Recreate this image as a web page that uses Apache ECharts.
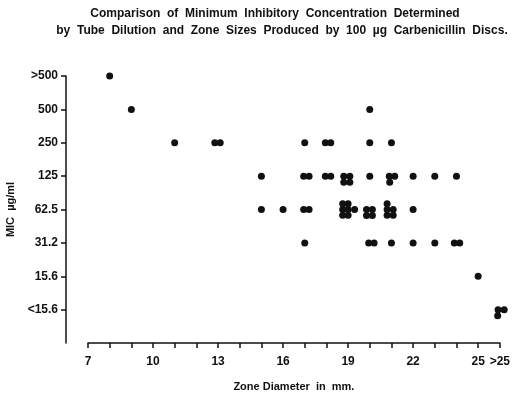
<!DOCTYPE html>
<html>
<head>
<meta charset="utf-8">
<script src="https://cdn.jsdelivr.net/npm/echarts@6/dist/echarts.min.js"></script>
<style>
  html, body { margin: 0; padding: 0; background: #fff; }
  #chart { width: 513px; height: 397px; }
</style>
</head>
<body>
<div id="chart"></div>
<script>
// MIC levels, bottom to top (index on the y axis)
const micLabels = ['<15.6', '15.6', '31.2', '62.5', '125', '250', '500', '>500'];
const zoneTicks = [7, 10, 13, 16, 19, 22, 25, 26];

// each dot: zone diameter (mm) and MIC level index; small offsets copy the
// way overlapping isolates are nudged apart in the original
const zoneDiameter = [
  8,
  9, 20,
  11, 12.85, 13.1, 17, 17.95, 18.2, 20, 21,
  15, 16.95, 17.2, 17.95, 18.2, 18.8, 19.08, 18.8, 19.08, 20, 20.9, 21.15, 20.92, 22, 23, 24,
  15, 16, 16.95, 17.2,
  18.75, 19.0, 18.75, 19.0, 19.3, 18.75, 19.0,
  19.85, 20.12, 19.85, 20.12,
  20.8, 20.8, 21.08, 20.8, 21.08,
  22,
  17, 19.95, 20.2, 21, 22, 23, 23.9, 24.15,
  25,
  25.92, 26.2, 25.9
];
const micLevel = [
  7,
  6, 6,
  5, 5, 5, 5, 5, 5, 5, 5,
  4, 4, 4, 4, 4, 4, 4, 3.82, 3.82, 4, 4, 4, 3.82, 4, 4, 4,
  3, 3, 3, 3,
  3.17, 3.17, 3.0, 3.0, 3.0, 2.83, 2.83,
  3.0, 3.0, 2.82, 2.82,
  3.17, 3.0, 3.0, 2.83, 2.83,
  3,
  2, 2, 2, 2, 2, 2, 2, 2,
  1,
  0, 0, -0.18
];

const points = zoneDiameter.map((x, i) => [x, micLevel[i]]);

const ink = '#111';
const font = '"Liberation Sans", Arial, sans-serif';
const titleStyle = { color: ink, fontFamily: font, fontWeight: 'bold', fontSize: 12 };

const chart = echarts.init(document.getElementById('chart'));
chart.setOption({
  animation: false,
  title: [
    {
      text: 'Comparison  of  Minimum  Inhibitory  Concentration  Determined',
      left: 275,
      top: 8,
      textAlign: 'center',
      padding: 0,
      textStyle: titleStyle
    },
    {
      text: 'by  Tube  Dilution  and  Zone  Sizes  Produced  by  100  µg  Carbenicillin  Discs.',
      left: 282,
      top: 25,
      textAlign: 'center',
      padding: 0,
      textStyle: titleStyle
    }
  ],
  grid: [
    { left: 66, width: 1, top: 76, bottom: 54 },
    { left: 88, right: 12, top: 76, bottom: 54 }
  ],
  xAxis: [
    { gridIndex: 0, type: 'value', show: false, min: 0, max: 1 },
    {
      gridIndex: 1,
      type: 'value',
      min: 7,
      max: 26,
      interval: 1,
      name: 'Zone Diameter  in  mm.',
      nameLocation: 'middle',
      nameGap: 38,
      nameTextStyle: { color: ink, fontFamily: font, fontWeight: 'bold', fontSize: 11 },
      axisLine: { onZero: false, lineStyle: { color: ink, width: 1.5 } },
      axisTick: { length: 5, lineStyle: { color: ink, width: 1.5 } },
      axisLabel: {
        customValues: zoneTicks,
        margin: 13,
        color: ink,
        fontFamily: font,
        fontWeight: 'bold',
        fontSize: 12,
        formatter: v => (v === 26 ? '>25' : String(v))
      },
      splitLine: { show: false }
    }
  ],
  yAxis: [
    {
      gridIndex: 0,
      type: 'value',
      min: -1,
      max: 7,
      interval: 1,
      name: 'MIC  µg/ml',
      nameLocation: 'middle',
      nameGap: 50,
      nameTextStyle: { color: ink, fontFamily: font, fontWeight: 'bold', fontSize: 11 },
      axisLine: { show: true, onZero: false, lineStyle: { color: ink, width: 1.5 } },
      axisTick: {
        show: true,
        length: 5,
        customValues: [0, 1, 2, 3, 4, 5, 6, 7],
        lineStyle: { color: ink, width: 1.5 }
      },
      axisLabel: {
        customValues: [0, 1, 2, 3, 4, 5, 6, 7],
        margin: 8,
        color: ink,
        fontFamily: font,
        fontWeight: 'bold',
        fontSize: 12,
        formatter: v => micLabels[v] || ''
      },
      splitLine: { show: false }
    },
    { gridIndex: 1, type: 'value', min: -1, max: 7, show: false }
  ],
  series: [
    {
      type: 'scatter',
      xAxisIndex: 1,
      yAxisIndex: 1,
      data: points,
      clip: false,
      symbol: 'circle',
      symbolSize: 7,
      itemStyle: { color: ink, opacity: 1 }
    }
  ]
});
</script>
</body>
</html>
